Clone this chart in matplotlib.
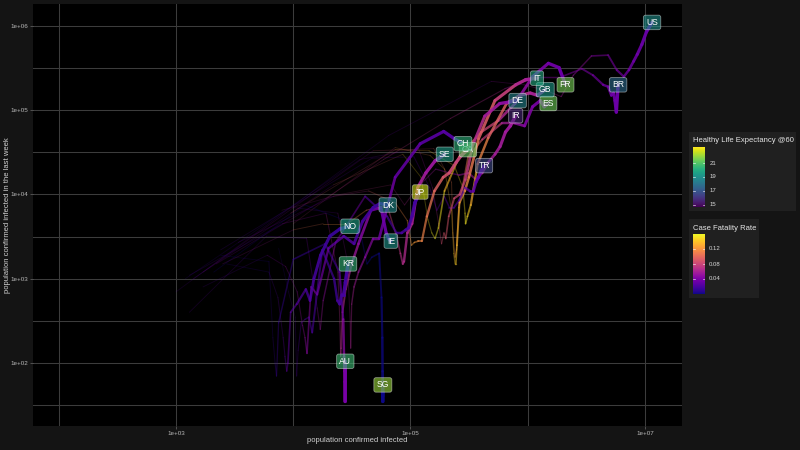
import numpy as np
import matplotlib
matplotlib.use("Agg")
import matplotlib.pyplot as plt
from matplotlib import colors
from matplotlib.patches import Rectangle

plt.rcParams['font.family'] = ['Liberation Sans', 'DejaVu Sans']

nan = np.nan
# sample dates: days since 2020-03-01
DAYS = [9, 24, 40, 55, 75, 96, 116, 136, 157, 177, 198, 214, 228, 238, 247, 254, 261]

US_CASES = [1.0e3, 6.5e4, 4.9e5, 9.3e5, 1.45e6, 1.93e6, 2.45e6, 3.5e6, 4.85e6, 5.75e6, 6.6e6, 7.3e6, 8.0e6, 8.6e6, 9.4e6, 1.03e7, 1.15e7]
US_WEEK = [7.0e2, 5.0e4, 2.2e5, 2.0e5, 1.7e5, 1.45e5, 2.6e5, 4.4e5, 4.5e5, 3.0e5, 2.5e5, 3.0e5, 3.8e5, 4.6e5, 6.0e5, 8.5e5, 1.1e6]
US_CFR = [0.03, 0.02, 0.04, 0.058, 0.062, 0.06, 0.055, 0.045, 0.04, 0.038, 0.036, 0.035, 0.034, 0.033, 0.032, 0.031, 0.03]

BR_CASES = [nan, 2.2e3, 1.9e4, 5.9e4, 2.2e5, 6.4e5, 1.2e6, 1.95e6, 2.9e6, 3.6e6, 4.4e6, 4.85e6, 5.17e6, 5.4e6, 5.55e6, 5.7e6, 5.9e6]
BR_WEEK = [nan, 1.5e3, 9.0e3, 2.6e4, 8.0e4, 1.8e5, 2.5e5, 2.5e5, 3.1e5, 2.6e5, 2.0e5, 1.9e5, 1.5e5, 1.6e5, 1.3e5, 9.5e4, 2.0e5]
BR_CFR = [nan, 0.025, 0.06, 0.07, 0.068, 0.06, 0.05, 0.043, 0.04, 0.038, 0.036, 0.035, 0.034, 0.034, 0.033, 0.033, 0.033]

FR_CASES = [1.4e3, 2.2e4, 8.6e4, 1.23e5, 1.41e5, 1.52e5, 1.62e5, 1.73e5, 1.95e5, 2.6e5, 4.0e5, 5.6e5, 7.8e5, 1.1e6, 1.5e6, 1.85e6, 2.1e6]
FR_WEEK = [1.0e3, 1.3e4, 3.0e4, 1.6e4, 5.0e3, 3.5e3, 3.0e3, 4.0e3, 1.1e4, 2.8e4, 5.5e4, 7.5e4, 1.2e5, 2.5e5, 3.6e5, 3.2e5, 2.0e5]
FR_CFR = [0.02, 0.05, 0.14, 0.155, 0.155, 0.155, 0.155, 0.155, 0.15, 0.125, 0.09, 0.07, 0.055, 0.042, 0.036, 0.033, 0.032]

IT_CASES = [1.0e4, 7.4e4, 1.47e5, 1.95e5, 2.24e5, 2.34e5, 2.4e5, 2.44e5, 2.49e5, 2.62e5, 2.91e5, 3.15e5, 3.81e5, 5.25e5, 7.9e5, 9.6e5, 1.2e6]
IT_WEEK = [4.5e3, 3.6e4, 2.9e4, 2.0e4, 6.5e3, 2.0e3, 1.5e3, 1.5e3, 2.5e3, 8.0e3, 1.1e4, 1.6e4, 4.6e4, 1.3e5, 2.0e5, 2.3e5, 2.4e5]
IT_CFR = [0.05, 0.1, 0.128, 0.135, 0.14, 0.144, 0.145, 0.143, 0.141, 0.134, 0.122, 0.114, 0.1, 0.085, 0.068, 0.06, 0.056]

ES_CASES = [1.7e3, 4.8e4, 1.58e5, 2.24e5, 2.3e5, 2.4e5, 2.47e5, 2.58e5, 3.1e5, 4.1e5, 6.0e5, 7.8e5, 9.4e5, 1.1e6, 1.28e6, 1.38e6, 1.5e6]
ES_WEEK = [1.2e3, 3.3e4, 3.5e4, 1.4e4, 3.5e3, 1.8e3, 2.2e3, 7.0e3, 2.8e4, 4.5e4, 7.0e4, 7.0e4, 6.5e4, 1.1e5, 1.3e5, 1.1e5, 1.2e5]
ES_CFR = [0.02, 0.07, 0.1, 0.1, 0.118, 0.113, 0.115, 0.11, 0.1, 0.085, 0.065, 0.052, 0.045, 0.04, 0.037, 0.035, 0.034]

GB_CASES = [nan, 9.5e3, 7.4e4, 1.44e5, 2.36e5, 2.8e5, 2.92e5, 2.95e5, 3.06e5, 3.27e5, 3.74e5, 4.6e5, 6.6e5, 8.5e5, 1.05e6, 1.21e6, 1.41e6]
GB_WEEK = [nan, 6.0e3, 3.4e4, 3.3e4, 2.2e4, 1.2e4, 6.0e3, 4.5e3, 5.5e3, 7.5e3, 2.3e4, 4.7e4, 1.2e5, 1.5e5, 1.6e5, 1.5e5, 1.75e5]
GB_CFR = [nan, 0.05, 0.12, 0.14, 0.147, 0.15, 0.152, 0.155, 0.15, 0.14, 0.125, 0.105, 0.085, 0.07, 0.062, 0.057, 0.053]

DE_CASES = [1.2e3, 3.7e4, 1.17e5, 1.54e5, 1.74e5, 1.84e5, 1.93e5, 2.0e5, 2.12e5, 2.36e5, 2.63e5, 2.94e5, 3.41e5, 4.3e5, 5.77e5, 6.94e5, 8.2e5]
DE_WEEK = [1.0e3, 2.6e4, 3.5e4, 1.2e4, 4.5e3, 2.6e3, 3.5e3, 3.0e3, 5.5e3, 9.0e3, 1.0e4, 1.5e4, 3.9e4, 8.5e4, 1.2e5, 1.25e5, 1.3e5]
DE_CFR = [0.01, 0.02, 0.04, 0.06, 0.075, 0.085, 0.09, 0.09, 0.088, 0.085, 0.082, 0.078, 0.07, 0.06, 0.05, 0.045, 0.042]

IR_CASES = [8.0e3, 2.5e4, 6.8e4, 8.9e4, 1.14e5, 1.64e5, 2.15e5, 2.6e5, 3.14e5, 3.61e5, 4.1e5, 4.6e5, 5.26e5, 5.81e5, 6.46e5, 7.1e5, 7.9e5]
IR_WEEK = [6.5e3, 1.0e4, 1.3e4, 7.5e3, 1.2e4, 2.0e4, 1.8e4, 1.7e4, 1.8e4, 1.5e4, 1.8e4, 2.4e4, 3.0e4, 3.7e4, 5.5e4, 6.5e4, 8.6e4]
IR_CFR = [0.036, 0.078, 0.062, 0.065, 0.06, 0.049, 0.048, 0.05, 0.057, 0.058, 0.058, 0.057, 0.057, 0.057, 0.056, 0.055, 0.055]

CH_CASES = [nan, 1.0e4, 2.4e4, 2.9e4, 3.06e4, 3.09e4, 3.15e4, 3.3e4, 3.6e4, 4.1e4, 4.8e4, 5.4e4, 7.4e4, 1.21e5, 1.92e5, 2.36e5, 2.8e5]
CH_WEEK = [nan, 7.0e3, 6.0e3, 1.6e3, 3.0e2, 1.5e2, 5.0e2, 8.0e2, 1.2e3, 1.8e3, 3.0e3, 3.0e3, 1.6e4, 4.0e4, 5.6e4, 4.6e4, 4.0e4]
CH_CFR = [nan, 0.015, 0.04, 0.055, 0.06, 0.062, 0.062, 0.059, 0.055, 0.049, 0.043, 0.038, 0.032, 0.027, 0.024, 0.023, 0.023]

SE_CASES = [nan, 2.5e3, 1.0e4, 1.8e4, 2.9e4, 4.2e4, 6.3e4, 7.6e4, 8.2e4, 8.6e4, 8.8e4, 9.4e4, 1.03e5, 1.15e5, 1.35e5, 1.62e5, 1.96e5]
SE_WEEK = [nan, 1.5e3, 3.8e3, 4.5e3, 4.5e3, 6.5e3, 7.5e3, 3.2e3, 2.0e3, 1.5e3, 1.6e3, 3.5e3, 4.5e3, 1.2e4, 1.8e4, 2.5e4, 3.0e4]
SE_CFR = [nan, 0.025, 0.089, 0.12, 0.12, 0.11, 0.083, 0.074, 0.07, 0.067, 0.066, 0.063, 0.06, 0.058, 0.055, 0.052, 0.05]

CA_CASES = [nan, 3.4e3, 2.2e4, 4.4e4, 7.4e4, 9.4e4, 1.02e5, 1.08e5, 1.17e5, 1.25e5, 1.38e5, 1.6e5, 1.9e5, 2.14e5, 2.45e5, 2.71e5, 3.09e5]
CA_WEEK = [nan, 2.7e3, 9.5e3, 1.1e4, 8.0e3, 4.9e3, 2.5e3, 2.7e3, 2.8e3, 2.8e3, 5.5e3, 1.1e4, 1.6e4, 1.8e4, 2.4e4, 2.9e4, 3.4e4]
CA_CFR = [nan, 0.02, 0.05, 0.08, 0.11, 0.12, 0.125, 0.125, 0.12, 0.115, 0.11, 0.1, 0.09, 0.085, 0.08, 0.075, 0.07]

TR_CASES = [nan, 2.4e3, 4.7e4, 1.07e5, 1.46e5, 1.68e5, 1.94e5, 2.15e5, 2.35e5, 2.6e5, 2.93e5, 3.2e5, 3.44e5, 3.62e5, 3.8e5, 4.0e5, 4.25e5]
TR_WEEK = [nan, 2.2e3, 2.7e4, 2.8e4, 1.2e4, 6.5e3, 9.5e3, 7.0e3, 7.0e3, 8.5e3, 1.2e4, 1.1e4, 1.1e4, 1.4e4, 1.6e4, 1.9e4, 2.2e4]
TR_CFR = [nan, 0.025, 0.021, 0.025, 0.027, 0.027, 0.026, 0.025, 0.025, 0.024, 0.025, 0.026, 0.026, 0.027, 0.028, 0.028, 0.028]

JP_CASES = [nan, 1.3e3, 5.9e3, 1.3e4, 1.6e4, 1.7e4, 1.8e4, 2.3e4, 4.1e4, 6.3e4, 7.6e4, 8.4e4, 9.1e4, 9.6e4, 1.03e5, 1.09e5, 1.21e5]
JP_WEEK = [nan, 4.0e2, 3.2e3, 3.0e3, 4.5e2, 2.5e2, 5.5e2, 2.7e3, 9.5e3, 5.5e3, 3.5e3, 3.5e3, 3.8e3, 4.0e3, 5.5e3, 8.0e3, 1.07e4]
JP_CFR = [nan, 0.035, 0.02, 0.027, 0.045, 0.053, 0.054, 0.044, 0.025, 0.019, 0.019, 0.019, 0.018, 0.018, 0.018, 0.017, 0.016]

DK_CASES = [nan, 1.7e3, 6.0e3, 8.6e3, 1.08e4, 1.2e4, 1.26e4, 1.31e4, 1.42e4, 1.6e4, 2.0e4, 2.7e4, 3.3e4, 3.9e4, 4.8e4, 5.5e4, 6.4e4]
DK_WEEK = [nan, 8.0e2, 1.9e3, 1.4e3, 7.0e2, 2.8e2, 2.0e2, 1.3e2, 8.0e2, 6.5e2, 2.3e3, 3.2e3, 2.6e3, 4.8e3, 7.0e3, 7.8e3, 7.5e3]
DK_CFR = [nan, 0.008, 0.04, 0.048, 0.05, 0.05, 0.048, 0.047, 0.043, 0.039, 0.032, 0.024, 0.021, 0.018, 0.015, 0.014, 0.013]

NO_CASES = [nan, 2.7e3, 6.2e3, 7.4e3, 8.2e3, 8.5e3, 8.8e3, 9.0e3, 9.5e3, 1.07e4, 1.28e4, 1.39e4, 1.5e4, 1.71e4, 2.05e4, 2.5e4, 3.05e4]
NO_WEEK = [nan, 1.5e3, 1.2e3, 6.0e2, 2.0e2, 1.2e2, 8.0e1, 1.0e2, 4.0e2, 5.0e2, 7.5e2, 5.5e2, 1.0e3, 1.9e3, 3.2e3, 3.9e3, 4.2e3]
NO_CFR = [nan, 0.004, 0.018, 0.026, 0.028, 0.028, 0.028, 0.028, 0.027, 0.025, 0.021, 0.02, 0.019, 0.017, 0.014, 0.012, 0.01]

IE_CASES = [nan, 1.3e3, 8.1e3, 1.9e4, 2.4e4, 2.5e4, 2.54e4, 2.56e4, 2.63e4, 2.8e4, 3.15e4, 3.6e4, 4.6e4, 5.6e4, 6.2e4, 6.5e4, 6.8e4]
IE_WEEK = [nan, 1.1e3, 4.5e3, 6.0e3, 1.2e3, 3.0e2, 1.2e2, 1.5e2, 4.0e2, 7.5e2, 1.5e3, 2.6e3, 6.5e3, 7.0e3, 3.5e3, 3.0e3, 2.8e3]
IE_CFR = [nan, 0.005, 0.04, 0.058, 0.065, 0.067, 0.068, 0.069, 0.067, 0.063, 0.057, 0.05, 0.04, 0.034, 0.031, 0.03, 0.03]

KR_CASES = [7.5e3, 9.1e3, 1.04e4, 1.07e4, 1.1e4, 1.17e4, 1.26e4, 1.36e4, 1.45e4, 1.77e4, 2.23e4, 2.38e4, 2.49e4, 2.59e4, 2.69e4, 2.78e4, 2.93e4]
KR_WEEK = [2.3e3, 7.0e2, 3.5e2, 7.0e1, 1.4e2, 3.0e2, 3.3e2, 3.5e2, 2.3e2, 2.2e3, 1.0e3, 5.5e2, 5.0e2, 6.5e2, 6.5e2, 9.0e2, 1.5e3]
KR_CFR = [0.007, 0.013, 0.02, 0.022, 0.024, 0.023, 0.022, 0.021, 0.021, 0.018, 0.016, 0.017, 0.018, 0.018, 0.018, 0.017, 0.017]

AU_CASES = [nan, 2.4e3, 6.2e3, 6.7e3, 7.0e3, 7.2e3, 7.5e3, 1.0e4, 1.87e4, 2.48e4, 2.67e4, 2.71e4, 2.73e4, 2.75e4, 2.76e4, 2.77e4, 2.78e4]
AU_WEEK = [nan, 1.9e3, 1.6e3, 2.0e2, 1.0e2, 7.0e1, 3.0e2, 1.7e3, 2.6e3, 1.2e3, 3.3e2, 1.2e2, 1.0e2, 8.0e1, 6.0e1, 3.5e1, 1.05e2]
AU_CFR = [nan, 0.004, 0.008, 0.012, 0.014, 0.014, 0.014, 0.011, 0.013, 0.022, 0.04, 0.05, 0.055, 0.05, 0.045, 0.04, 0.036]

SG_CASES = [nan, nan, 2.1e3, 1.26e4, 2.68e4, 3.69e4, 4.26e4, 4.68e4, 5.4e4, 5.66e4, 5.75e4, 5.78e4, 5.79e4, 5.795e4, 5.8e4, 5.805e4, 5.81e4]
SG_WEEK = [nan, nan, 1.2e3, 7.5e3, 5.0e3, 3.8e3, 1.5e3, 1.8e3, 2.0e3, 6.0e2, 2.0e2, 8.0e1, 6.0e1, 4.0e1, 4.5e1, 3.5e1, 5.5e1]
SG_CFR = [nan, nan, 0.005, 0.0012, 0.0008, 0.0007, 0.0006, 0.0005, 0.0005, 0.0005, 0.0005, 0.0005, 0.0005, 0.0005, 0.0005, 0.0005, 0.0005]

COUNTRIES = ["AU", "BR", "CA", "CH", "DE", "DK", "ES", "FR", "GB", "IE", "IR", "IT", "JP", "KR", "NO", "SE", "SG", "TR", "US"]
HLE = [20.6, 17.7, 21.2, 20.3, 18.6, 18.8, 21.4, 21.5, 19.4, 19.2, 15.6, 20.0, 22.7, 20.4, 19.7, 19.5, 22.0, 16.6, 19.0]

X_TICKS = [1e3, 1e5, 1e7]
X_TICK_LABELS = ["1e+03", "1e+05", "1e+07"]
Y_TICKS = [1e2, 1e3, 1e4, 1e5, 1e6]
Y_TICK_LABELS = ["1e+02", "1e+03", "1e+04", "1e+05", "1e+06"]
HLE_TICKS = [15, 17, 19, 21]
CFR_TICKS = [0.04, 0.08, 0.12]
CFR_TICK_LABELS = ["0.04", "0.08", "0.12"]

g = globals()
series = {c: (np.array(g[c + "_CASES"], float), np.array(g[c + "_WEEK"], float),
              np.array(g[c + "_CFR"], float)) for c in COUNTRIES}

cfr_norm = colors.Normalize(0.0, 0.16)
hle_norm = colors.Normalize(14.7, 23.3)
plasma = plt.get_cmap("plasma")
viridis = plt.get_cmap("viridis")

BG = "#141414"
fig = plt.figure(figsize=(8, 4.5), dpi=100, facecolor=BG)
ax = fig.add_axes([33 / 800, 24 / 450, 649 / 800, 422 / 450])
ax.set_facecolor("black")
ax.set_xscale("log")
ax.set_yscale("log")
ax.set_xlim(10 ** 1.78, 10 ** 7.316)
ax.set_ylim(10 ** 1.253, 10 ** 6.26)
for s in ax.spines.values():
    s.set_visible(False)

# grid
for v in [1e2, 1e4, 1e6] + X_TICKS:
    ax.axvline(v, color="#3c3c3c", lw=0.75, zorder=0)
for e in [1.5, 2.5, 3.5, 4.5, 5.5]:
    ax.axhline(10 ** e, color="#3c3c3c", lw=0.75, zorder=0)
for v in Y_TICKS:
    ax.axhline(v, color="#3c3c3c", lw=0.75, zorder=0)

ax.set_xticks(X_TICKS)
ax.set_xticklabels(X_TICK_LABELS)
ax.set_yticks(Y_TICKS)
ax.set_yticklabels(Y_TICK_LABELS)
ax.minorticks_off()
ax.tick_params(colors="#6a6a6a", labelcolor="#b8b8b8", labelsize=4.5, length=2.2, width=0.5, pad=1.5)

days = np.array(DAYS, float)
tfrac = days / days.max()

for c in COUNTRIES:
    cx, wy, cf = series[c]
    for i in range(len(cx) - 1):
        if np.isnan(cx[i]) or np.isnan(cx[i + 1]):
            continue
        t = 0.5 * (tfrac[i] + tfrac[i + 1])
        a = 0.16 + 0.84 * t ** 1.6
        lw = 0.6 + 1.9 * t ** 2
        col = plasma(cfr_norm(0.5 * (cf[i] + cf[i + 1])))
        ax.plot(cx[i:i + 2], wy[i:i + 2], color=col, alpha=a, lw=lw,
                solid_capstyle="round", zorder=2 + t)

for c, h in zip(COUNTRIES, HLE):
    cx, wy, cf = series[c]
    r, gg, b, _ = viridis(hle_norm(h))
    ax.text(cx[-1], wy[-1], c, ha="center", va="center", fontsize=6.2, color="white", zorder=10,
            bbox=dict(boxstyle="round,pad=0.32,rounding_size=0.25", fc=(r, gg, b, 0.6),
                      ec=(1, 1, 1, 0.45), lw=0.6))

fig.text(357.5 / 800, 1 - 441 / 450, "population confirmed infected", ha="center", va="center",
         fontsize=5.5, color="#d0d0d0")
fig.text(8 / 800, 1 - 215 / 450, "population confirmed infected in the last week", ha="center",
         va="center", rotation=90, fontsize=5.5, color="#d0d0d0")


def legend_box(x0, y0, x1, y1, title, cmap, vmin, vmax, ticks, labels, bar_top, bar_bot):
    fig.patches.append(Rectangle((x0 / 800, 1 - y1 / 450), (x1 - x0) / 800, (y1 - y0) / 450,
                                 transform=fig.transFigure, fc="#202020", ec="none", zorder=-5))
    fig.text((x0 + 4) / 800, 1 - (y0 + 9) / 450, title, ha="left", va="center", fontsize=5.5,
             color="#e6e6e6")
    cax = fig.add_axes([693 / 800, 1 - bar_bot / 450, 12 / 800, (bar_bot - bar_top) / 450])
    cax.set_zorder(5)
    grad = np.linspace(vmin, vmax, 256).reshape(-1, 1)
    cax.imshow(grad, extent=[0, 1, vmin, vmax], origin="lower", aspect="auto", cmap=cmap,
               vmin=vmin, vmax=vmax)
    cax.set_xlim(0, 1)
    cax.set_ylim(vmin, vmax)
    cax.axis("off")
    for v, lab in zip(ticks, labels):
        cax.plot([0, 0.2], [v, v], color="white", lw=0.5, alpha=0.8)
        cax.plot([0.8, 1], [v, v], color="white", lw=0.5, alpha=0.8)
        cax.text(1.35, v, lab, ha="left", va="center", fontsize=4.3, color="#d8d8d8")


legend_box(689, 132, 796, 211, "Healthy Life Expectancy @60", "viridis", 14.7, 23.3,
           HLE_TICKS, [str(v) for v in HLE_TICKS], 147, 207)
legend_box(689, 219, 759, 298, "Case Fatality Rate", "plasma", 0.0, 0.16,
           CFR_TICKS, CFR_TICK_LABELS, 234, 294)

fig.savefig("out.png", dpi=100, facecolor=BG)
